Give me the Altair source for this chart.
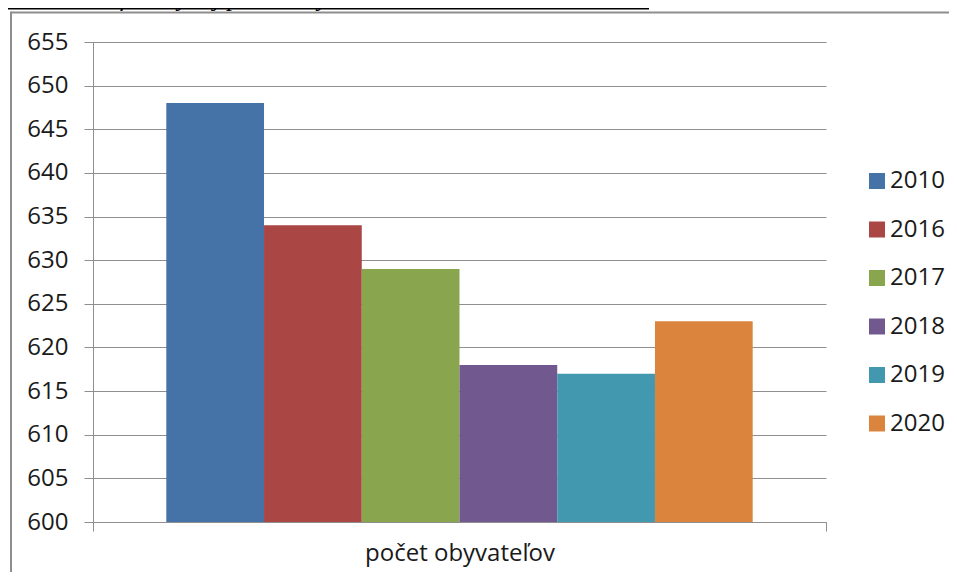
import altair as alt
import pandas as pd

# ---- data ----
years = ["2010", "2016", "2017", "2018", "2019", "2020"]
values = [648, 634, 629, 618, 617, 623]
category = "počet obyvateľov"
colors = ["#4572A7", "#AA4643", "#89A54E", "#71588F", "#4198AF", "#DB843D"]
y_ticks = list(range(600, 656, 5))
title_text = "Graf 3: Vývoj počtu obyvateľov v rokoch 2010 až 2020"

df = pd.DataFrame({"kategoria": [category] * len(years), "rok": years, "pocet": values})

FONT = "Open Sans"
GRID = "#8f8f8f"
TXT = "#1a1a1a"

bars = alt.Chart(df).mark_bar().encode(
    x=alt.X(
        "kategoria:N",
        title=None,
        scale=alt.Scale(paddingInner=0, paddingOuter=0),
        axis=alt.Axis(
            labelAngle=0,
            tickBand="extent",
            ticks=True,
            tickSize=9,
            tickColor=GRID,
            domainColor=GRID,
            labelFont=FONT,
            labelFontSize=24,
            labelColor=TXT,
            labelPadding=10,
            labelLimit=1000,
            grid=False,
        ),
    ),
    xOffset=alt.XOffset("rok:N", scale=alt.Scale(domain=years, paddingInner=0, paddingOuter=0.75)),
    y=alt.Y(
        "pocet:Q",
        title=None,
        scale=alt.Scale(domain=[600, 655], zero=False, nice=False),
        axis=alt.Axis(
            values=y_ticks,
            tickSize=9,
            tickColor=GRID,
            domainColor=GRID,
            gridColor=GRID,
            grid=True,
            labelFont=FONT,
            labelFontSize=24,
            labelColor=TXT,
            labelPadding=16,
        ),
    ),
    y2=alt.datum(600),
    color=alt.Color(
        "rok:N",
        scale=alt.Scale(domain=years, range=colors),
        legend=alt.Legend(
            title=None,
            orient="none",
            legendX=772,
            legendY=127,
            padding=0,
            symbolType="square",
            symbolSize=256,
            symbolStrokeWidth=0,
            labelFont=FONT,
            labelFontSize=24,
            labelColor=TXT,
            labelOffset=1,
            labelLimit=200,
            rowPadding=24.5,
        ),
    ),
)

one = pd.DataFrame({"a": [0]})

frame_top = alt.Chart(one).mark_rule(color="#8e8e8e", strokeWidth=2).encode(
    x=alt.value(-82), x2=alt.value(860), y=alt.value(-29.5)
)
frame_left = alt.Chart(one).mark_rule(color="#8e8e8e", strokeWidth=2).encode(
    x=alt.value(-82), y=alt.value(-30.5), y2=alt.value(540)
)

title_df = pd.DataFrame({"t": [title_text]})
title = alt.Chart(title_df).mark_text(
    font="Liberation Serif", fontStyle="italic", fontSize=26, align="right",
    baseline="alphabetic", color="#000000"
).encode(text="t:N", x=alt.value(556), y=alt.value(-36))
underline = alt.Chart(one).mark_rule(color="#000000", strokeWidth=1.5).encode(
    x=alt.value(-90), x2=alt.value(556), y=alt.value(-33.2)
)

chart = (
    alt.layer(bars, frame_top, frame_left, underline, title)
    .properties(
        width=733,
        height=480,
        padding={"left": 85, "top": 34, "right": 123, "bottom": 50},
        autosize=alt.AutoSizeParams(type="none"),
        background="white",
    )
    .configure_view(stroke=None)
)

chart.save("out.html", embed_options={"renderer": "svg", "actions": False})
